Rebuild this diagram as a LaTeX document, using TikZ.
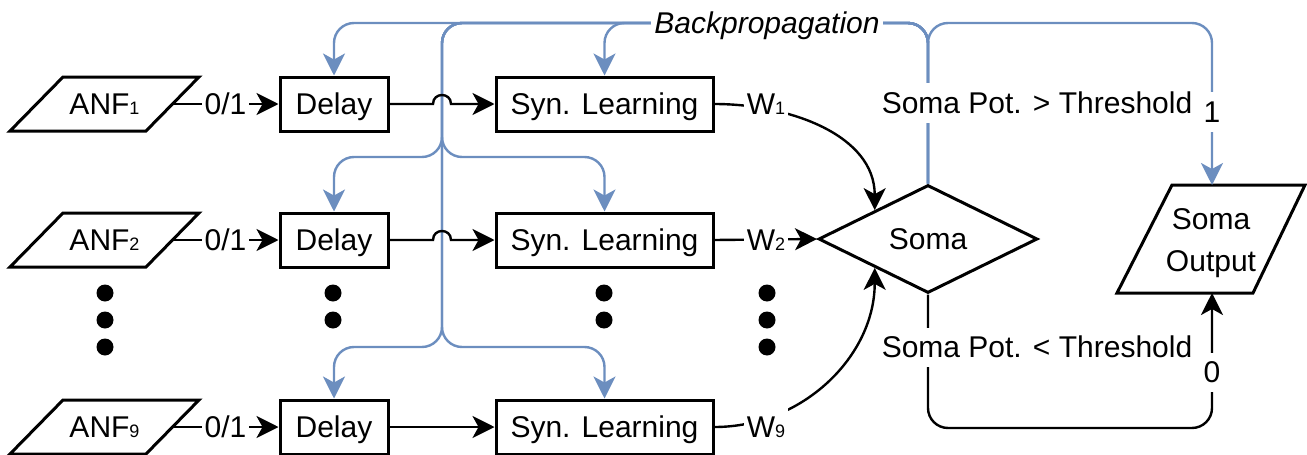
\documentclass[tikz,border=0pt]{standalone}
\usepackage{fontspec}
\setmainfont{Liberation Sans}
\usetikzlibrary{arrows.meta,shapes.geometric,calc}
\definecolor{bpblue}{HTML}{6C8EBF}
\newcommand\sbs[1]{{\fontsize{9pt}{9pt}\selectfont #1}}
\begin{document}
\begin{tikzpicture}[x=0.5pt,y=-0.5pt,
  font=\fontsize{15pt}{18pt}\selectfont,
  tt/.style={text height=13.5pt, text depth=3.15pt},
  box/.style={draw, line width=1.5pt, rectangle, minimum height=27pt, inner sep=0pt, tt},
  shp/.style={line width=1.5pt, line join=miter},
  arr/.style={-{Stealth[length=11pt,width=11pt,inset=3pt]}},
  conn/.style={line width=1.2pt, arr},
  bp/.style={draw=bpblue, line width=1.2pt, rounded corners=10pt, arr},
  lbl/.style={fill=white, inner sep=1.5pt, tt},
  dot/.style={circle, fill, inner sep=0pt, minimum size=8.5pt}]
\useasboundingbox (0,0) rectangle (1307,455);

% ---- input parallelograms ----
\draw[shp] (10,131) -- (146,131) -- (199,77) -- (63,77) -- cycle;
\node[tt] (anf1) at (104.5,104) {ANF\sbs{1}};
\coordinate (anf1e) at (172.5,104);
\draw[shp] (10,267) -- (146,267) -- (199,213) -- (63,213) -- cycle;
\node[tt] (anf2) at (104.5,240) {ANF\sbs{2}};
\coordinate (anf2e) at (172.5,240);
\draw[shp] (10,454) -- (146,454) -- (199,400) -- (63,400) -- cycle;
\node[tt] (anf9) at (104.5,427) {ANF\sbs{9}};
\coordinate (anf9e) at (172.5,427);

% ---- boxes ----
\node[box, minimum width=54pt] (delay1) at (334,104) {Delay};
\node[box, minimum width=54pt] (delay2) at (334,240) {Delay};
\node[box, minimum width=54pt] (delay9) at (334,427) {Delay};
\node[box, minimum width=108.5pt] (syn1) at (604.5,104) {Syn. Learning};
\node[box, minimum width=108.5pt] (syn2) at (604.5,240) {Syn. Learning};
\node[box, minimum width=108.5pt] (syn9) at (604.5,427) {Syn. Learning};

% ---- soma ----
\node[draw, diamond, aspect=2, minimum width=109.5pt, minimum height=54pt,
      inner sep=0pt, line width=1.5pt, tt] (soma) at (928,239) {Soma};

% ---- output ----
\draw[shp] (1117,293) -- (1253,293) -- (1305,185) -- (1172,185) -- cycle;
\node[align=center, font=\fontsize{15pt}{21pt}\selectfont, inner sep=0pt] (out) at (1211,243) {Soma\\Output};
\coordinate (outN) at (1212,185);
\coordinate (outS) at (1212,293);

% ---- dots ----
\node[dot] (da1) at (105,293) {};
\node[dot] (da2) at (105,320) {};
\node[dot] (da3) at (105,347) {};
\node[dot] (db1) at (333,293) {};
\node[dot] (db2) at (333,320) {};
\node[dot] (dc1) at (604,293) {};
\node[dot] (dc2) at (604,320) {};
\node[dot] (dd1) at (767,293) {};
\node[dot] (dd2) at (767,320) {};
\node[dot] (dd3) at (767,347) {};

% ---- blue backpropagation edges ----
\draw[bp] (soma.north) -- (928,23) -- (334,23) -- (delay1.north);
\draw[bp] (soma.north) -- (928,23) -- (604.5,23) -- (syn1.north);
\draw[bp] (soma.north) -- (928,23) -- (442,23) -- (442,157) -- (334,157) -- (delay2.north);
\draw[bp] (soma.north) -- (928,23) -- (442,23) -- (442,157) -- (604.5,157) -- (syn2.north);
\draw[bp] (soma.north) -- (928,23) -- (442,23) -- (442,347) -- (334,347) -- (delay9.north);
\draw[bp] (soma.north) -- (928,23) -- (442,23) -- (442,347) -- (604.5,347) -- (syn9.north);
\draw[bp] (soma.north) -- (928,23) -- (1212,23) -- (outN);

% ---- black connectors ----
\draw[conn] (anf1e) -- node[lbl] (l01a) {0/1} (delay1.west);
\draw[conn] (anf2e) -- node[lbl] (l01b) {0/1} (delay2.west);
\draw[conn] (anf9e) -- node[lbl] (l01c) {0/1} (delay9.west);

\draw[conn] (delay1.east) -- (433,104) .. controls (433,92) and (451,92) .. (451,104) -- (syn1.west);
\draw[conn] (delay2.east) -- (433,240) .. controls (433,228) and (451,228) .. (451,240) -- (syn2.west);
\draw[conn] (delay9.east) -- (syn9.west);

\draw[conn] (syn1.east) to[out=0,in=90] ($(soma.west)!0.52!(soma.north)$);
\draw[conn] (syn2.east) -- (soma.west);
\draw[conn] (syn9.east) to[out=0,in=-90] ($(soma.west)!0.52!(soma.south)$);
\node[lbl] (w1) at (766,104) {W\sbs{1}};
\node[lbl] (w2) at (766,240) {W\sbs{2}};
\node[lbl] (w9) at (766,427) {W\sbs{9}};

\draw[conn, rounded corners=10pt] (soma.south) -- (928,428) -- (1212,428) -- (outS);

% ---- labels ----
\node[lbl] (bplbl) at (767,23) {\itshape Backpropagation};
\node[lbl] (gt) at (1037,103) {Soma Pot. > Threshold};
\node[lbl] (lt) at (1037,347.5) {Soma Pot. < Threshold};
\node[lbl] (one) at (1212,112) {1};
\node[lbl] (zero) at (1212,372.5) {0};
\end{tikzpicture}
\end{document}
